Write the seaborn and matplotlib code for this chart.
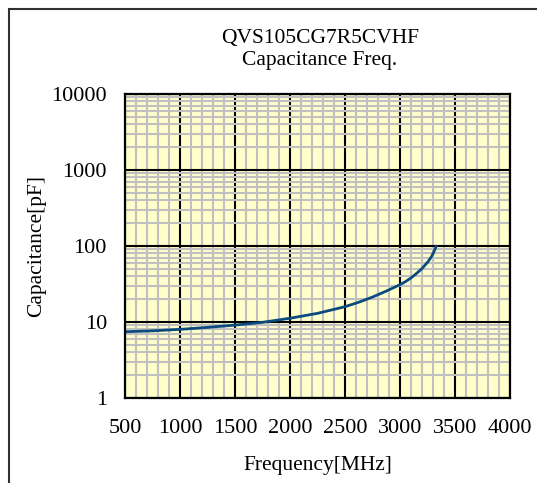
import matplotlib
matplotlib.use("Agg")
import matplotlib.pyplot as plt
import matplotlib.patches as mpatches
from matplotlib.ticker import MultipleLocator, LogLocator, NullFormatter, FixedLocator, FixedFormatter
import seaborn as sns
import pandas as pd

title_lines = ["QVS105CG7R5CVHF", "Capacitance Freq."]
x_label = "Frequency[MHz]"
y_label = "Capacitance[pF]"

freq = [500, 750, 1000, 1250, 1500, 1750, 2000, 2250, 2500, 2625, 2750, 2875, 3000, 3050, 3100, 3150, 3200, 3250, 3280, 3300, 3320, 3330]
cap = [7.45, 7.65, 8.0, 8.5, 9.1, 9.9, 11.2, 13.0, 15.9, 18.2, 21.3, 25.5, 31.0, 34.0, 38.0, 43.5, 50.5, 61.0, 70.0, 79.0, 92.0, 100.0]

x_ticks = [500, 1000, 1500, 2000, 2500, 3000, 3500, 4000]
y_ticks = [1, 10, 100, 1000, 10000]
y_tick_labels = ["1", "10", "100", "1000", "10000"]

sns.set_style("white")
plt.rcParams["font.family"] = ["Liberation Serif", "DejaVu Serif"]
plt.rcParams["text.color"] = "black"
plt.rcParams["axes.labelcolor"] = "black"
plt.rcParams["xtick.color"] = "black"
plt.rcParams["ytick.color"] = "black"

W, H = 537, 483
fig = plt.figure(figsize=(W / 100, H / 100), dpi=100)
ax = fig.add_axes([125 / W, 1 - 398 / H, (510 - 125) / W, (398 - 94) / H])
ax.set_facecolor("#FFFFCC")

df = pd.DataFrame({"freq": freq, "cap": cap})
sns.lineplot(data=df, x="freq", y="cap", ax=ax, color="#0B4a7e", linewidth=2.0, zorder=5)

ax.set_yscale("log")
ax.set_xlim(500, 4000)
ax.set_ylim(1, 10000)

ax.xaxis.set_major_locator(FixedLocator(x_ticks))
ax.xaxis.set_minor_locator(MultipleLocator(100))
ax.yaxis.set_major_locator(FixedLocator(y_ticks))
ax.yaxis.set_major_formatter(FixedFormatter(y_tick_labels))
ax.yaxis.set_minor_locator(LogLocator(base=10, subs=range(2, 10), numticks=20))
ax.yaxis.set_minor_formatter(NullFormatter())

ax.grid(which="minor", color="#C0C0C0", linewidth=1.5, zorder=1)
ax.grid(which="major", color="black", linewidth=1.5, zorder=2)
ax.set_axisbelow(True)

for s in ax.spines.values():
    s.set_visible(True)
    s.set_color("black")
    s.set_linewidth(1.6)
    s.set_zorder(6)

ax.tick_params(axis="both", which="both", length=0, labelsize=16, colors="black")
ax.tick_params(axis="y", pad=13)
ax.tick_params(axis="x", pad=15)

ax.set_xlabel(x_label, fontsize=15.5, labelpad=13, color="black")
ax.set_ylabel(y_label, fontsize=15.5, labelpad=4, color="black")

fig.text(320 / W, 1 - 39 / H, title_lines[0], ha="center", va="center", fontsize=15.5, color="black")
fig.text(320 / W, 1 - 61 / H, title_lines[1], ha="center", va="center", fontsize=15.5, color="black")

border = mpatches.Rectangle((9 / W, -0.1), 2.0, 1.1 - 9.5 / H, transform=fig.transFigure,
                            fill=False, edgecolor="#303030", linewidth=1.5, clip_on=False)
fig.patches.append(border)

fig.savefig("out.png", dpi=100)
